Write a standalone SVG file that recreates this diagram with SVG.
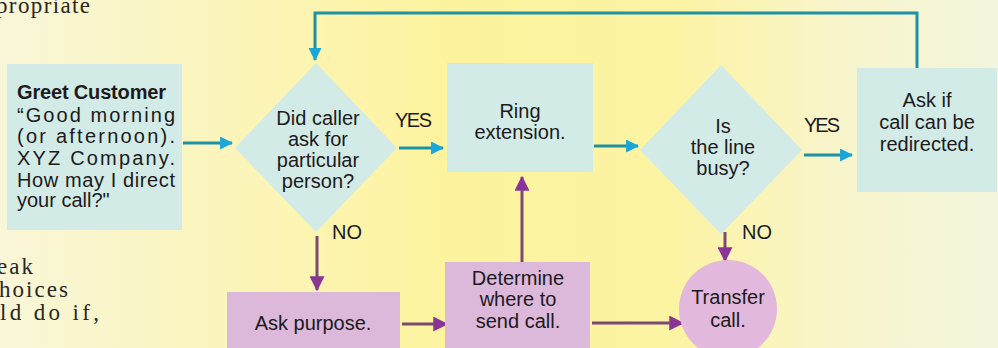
<svg xmlns="http://www.w3.org/2000/svg" width="998" height="348" viewBox="0 0 998 348">
<defs>
<linearGradient id="bg" x1="0" y1="0" x2="1" y2="0">
<stop offset="0" stop-color="#f8f6d8"/>
<stop offset="0.22" stop-color="#fbf5bc"/>
<stop offset="0.45" stop-color="#fdf39e"/>
<stop offset="0.68" stop-color="#fcf3a4"/>
<stop offset="0.84" stop-color="#f8f5cc"/>
<stop offset="1" stop-color="#f3f6dc"/>
</linearGradient>
<marker id="ac" viewBox="0 0 12 12" refX="11" refY="6" markerWidth="14" markerHeight="13" markerUnits="userSpaceOnUse" orient="auto">
<path d="M0,0 L12,6 L0,12 Z" fill="#1aa6d6"/>
</marker>
<marker id="ap" viewBox="0 0 12 12" refX="11" refY="6" markerWidth="15" markerHeight="15" markerUnits="userSpaceOnUse" orient="auto">
<path d="M0,0 L12,6 L0,12 Z" fill="#8a3596"/>
</marker>
</defs>
<style>
.t{font-family:"Liberation Sans",Arial,sans-serif;font-size:20px;fill:#1c1a1c;text-anchor:middle}
.tl{font-family:"Liberation Sans",Arial,sans-serif;font-size:20px;fill:#1c1a1c}
.b{font-weight:bold}
.s{font-family:"Liberation Serif","Times New Roman",serif;font-size:23px;fill:#2a2622}
.cy{fill:#d3ebe7}
.pk{fill:#dcb8da}
.lc{fill:none;stroke:#1e92a4;stroke-width:3}
.lp{fill:none;stroke:#7b4a72;stroke-width:3}
</style>
<rect width="998" height="348" fill="url(#bg)"/>
<g id="page-text">
<text class="s" x="-4" y="13" textLength="94">propriate</text>
<text class="s" x="-3" y="274" textLength="36">eak</text>
<text class="s" x="-1" y="297" textLength="69">hoices</text>
<text class="s" x="0" y="320" textLength="99">ld do if,</text>
</g>
<g id="connectors">
<line class="lc" x1="183" y1="143" x2="232" y2="143" marker-end="url(#ac)"/>
<line class="lc" x1="399" y1="148" x2="443" y2="148" marker-end="url(#ac)"/>
<line class="lc" x1="594" y1="146" x2="638" y2="146" marker-end="url(#ac)"/>
<line class="lc" x1="804" y1="155" x2="852" y2="155" marker-end="url(#ac)"/>
<polyline class="lc" points="917,68 917,13 315,13 315,60" marker-end="url(#ac)"/>
<line class="lp" x1="317" y1="236" x2="317" y2="290" marker-end="url(#ap)"/>
<line class="lp" x1="402" y1="324" x2="447" y2="324" marker-end="url(#ap)"/>
<line class="lp" x1="522" y1="262" x2="522" y2="177" marker-end="url(#ap)"/>
<line class="lp" x1="592" y1="323" x2="683" y2="323" marker-end="url(#ap)"/>
<line class="lp" x1="725" y1="232" x2="725" y2="261" marker-end="url(#ap)"/>
<text class="tl" x="395" y="127" textLength="37">YES</text>
<text class="tl" x="804" y="132" textLength="36">YES</text>
<text class="tl" x="332" y="239">NO</text>
<text class="tl" x="742" y="239">NO</text>
</g>
<g id="greet">
<rect class="cy" x="7" y="64" width="175" height="166"/>
<text class="tl b" x="17" y="99" textLength="149">Greet Customer</text>
<text class="tl" x="17" y="122" textLength="158">“Good morning</text>
<text class="tl" x="17" y="143" textLength="158">(or afternoon).</text>
<text class="tl" x="17" y="165" textLength="158">XYZ Company.</text>
<text class="tl" x="17" y="187" textLength="158">How may I direct</text>
<text class="tl" x="17" y="207">your call?"</text>
</g>
<g id="q-particular">
<polygon class="cy" points="316,63 397,148 316,232 235,148"/>
<text class="t" x="318" y="125">Did caller</text>
<text class="t" x="318" y="146">ask for</text>
<text class="t" x="318" y="167">particular</text>
<text class="t" x="318" y="188">person?</text>
</g>
<g id="ring">
<rect class="cy" x="447" y="63" width="146" height="109"/>
<text class="t" x="520" y="118">Ring</text>
<text class="t" x="520" y="139">extension.</text>
</g>
<g id="q-busy">
<polygon class="cy" points="721,65 802,150 721,234 640,150"/>
<text class="t" x="723" y="133">Is</text>
<text class="t" x="723" y="154">the line</text>
<text class="t" x="723" y="175">busy?</text>
</g>
<g id="ask-redirect">
<rect class="cy" x="857" y="68" width="140" height="124"/>
<text class="t" x="927" y="107">Ask if</text>
<text class="t" x="927" y="129">call can be</text>
<text class="t" x="927" y="151">redirected.</text>
</g>
<g id="ask-purpose">
<rect class="pk" x="227" y="292" width="173" height="60"/>
<text class="t" x="313" y="330">Ask purpose.</text>
</g>
<g id="determine">
<rect class="pk" x="445" y="262" width="145" height="90"/>
<text class="t" x="518" y="285">Determine</text>
<text class="t" x="518" y="306">where to</text>
<text class="t" x="518" y="328">send call.</text>
</g>
<g id="transfer">
<circle cx="728" cy="309" r="49" fill="#e2b8dc"/>
<text class="t" x="728" y="304">Transfer</text>
<text class="t" x="728" y="327">call.</text>
</g>
</svg>
